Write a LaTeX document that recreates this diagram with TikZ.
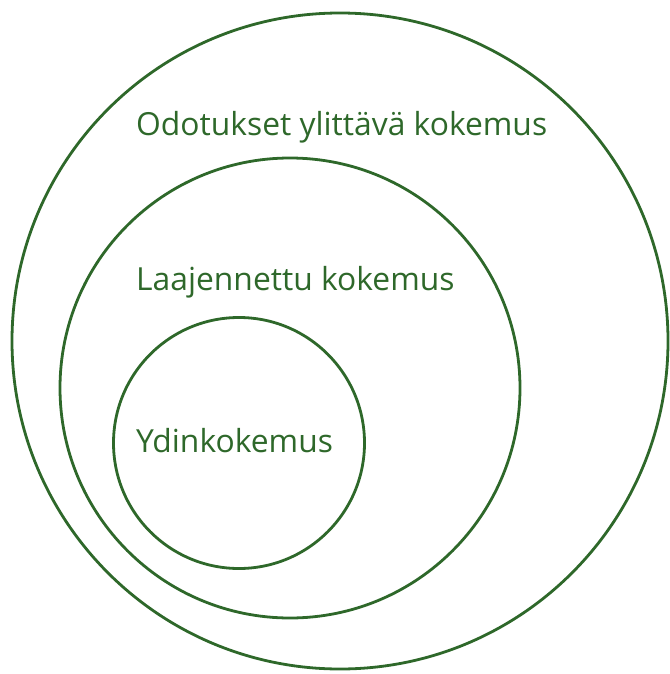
\documentclass[tikz,border=0pt]{standalone}
\usepackage{fontspec}
\setmainfont{Open Sans}
\definecolor{ringgreen}{RGB}{46,104,42}

\begin{document}
\begin{tikzpicture}[
    x=1pt, y=-1pt,
    ring/.style={circle, draw=ringgreen, line width=2.8pt, inner sep=0pt, outer sep=0pt},
    label/.style={text=ringgreen, font=\fontsize{31.8}{36}\selectfont, inner sep=0pt, anchor=west},
]

% ---- 画布 ----
\useasboundingbox (0,0) rectangle (669,674);

% ---- 圆环 ----
\node[ring, minimum size=656] (outer)  at (340,341) {};
\node[ring, minimum size=460] (middle) at (290,388) {};
\node[ring, minimum size=251] (inner)  at (239,443) {};

% ---- 标签 ----
\node[label] (outertext)  at (136,127) {Odotukset ylittävä kokemus};
\node[label] (middletext) at (136,282) {Laajennettu kokemus};
\node[label] (innertext)  at (136,441) {Ydinkokemus};

\end{tikzpicture}
\end{document}
